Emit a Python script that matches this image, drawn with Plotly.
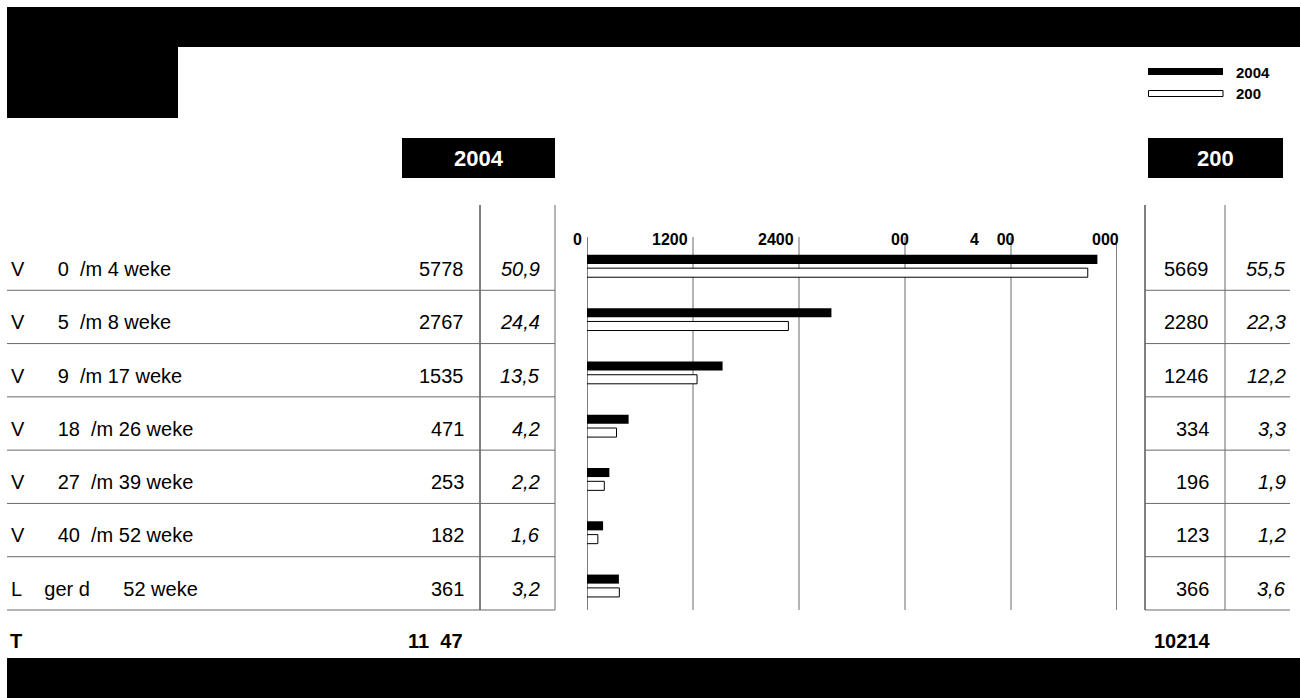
import plotly.graph_objects as go

NB = "\u00a0"
# ---- data ----
categories = ["V" + NB * 6 + "0" + NB * 2 + "/m 4 weke",
              "V" + NB * 6 + "5" + NB * 2 + "/m 8 weke",
              "V" + NB * 6 + "9" + NB * 2 + "/m 17 weke",
              "V" + NB * 6 + "18" + NB * 2 + "/m 26 weke",
              "V" + NB * 6 + "27" + NB * 2 + "/m 39 weke",
              "V" + NB * 6 + "40" + NB * 2 + "/m 52 weke",
              "L" + NB * 4 + "ger d" + NB * 6 + "52 weke"]
values_2004 = [5778, 2767, 1535, 471, 253, 182, 361]
pct_2004 = ["50,9", "24,4", "13,5", "4,2", "2,2", "1,6", "3,2"]
values_2003 = [5669, 2280, 1246, 334, 196, 123, 366]
pct_2003 = ["55,5", "22,3", "12,2", "3,3", "1,9", "1,2", "3,6"]
total_label = "T"
total_2004 = "11" + NB * 2 + "47"
total_2003 = "10214"
tick_values = [0, 1200, 2400, 3600, 4800, 6000]
tick_labels = ["0", "1200", "2400", "00", "4" + NB * 4 + "00", "000"]
legend_labels = ["2004", "200"]
header_labels = ["2004", "200"]

# style (not data)
tick_shift = [-3, -3, -3, 6, 6, 4]

W, H = 1300, 698
def px(x): return x / W
def py(y): return 1 - y / H

FONT = "Liberation Sans, Arial, sans-serif"
GREY = "#6a6a6a"
TS = 20  # table font size

n = len(categories)
fig = go.Figure()
fig.add_trace(go.Bar(orientation="h", x=values_2004, y=[i - 0.08 for i in range(n)],
                     width=0.17, marker=dict(color="black", line=dict(width=0)),
                     name=legend_labels[0], showlegend=False, hoverinfo="x"))
fig.add_trace(go.Bar(orientation="h", x=values_2003, y=[i + 0.17 for i in range(n)],
                     width=0.17, marker=dict(color="white", line=dict(color="black", width=1)),
                     name=legend_labels[1], showlegend=False, hoverinfo="x"))

shapes = []
ann = []

def rect(x0, y0, x1, y1, fill="black", line=None):
    shapes.append(dict(type="rect", xref="paper", yref="paper", x0=px(x0), x1=px(x1),
                       y0=py(y1), y1=py(y0), fillcolor=fill,
                       line=line if line else dict(width=0), layer="above"))

def hline(x0, x1, y, color=GREY, w=1):
    shapes.append(dict(type="line", xref="paper", yref="paper", x0=px(x0), x1=px(x1),
                       y0=py(y), y1=py(y), line=dict(color=color, width=w)))

def vline(x, y0, y1, color="black", w=1):
    shapes.append(dict(type="line", xref="paper", yref="paper", x0=px(x), x1=px(x),
                       y0=py(y0), y1=py(y1), line=dict(color=color, width=w)))

def text(t, x, y, anchor="left", size=TS, bold=False, italic=False, color="black", yref="paper"):
    if bold:
        t = "<b>" + t + "</b>"
    if italic:
        t = "<i>" + t + "</i>"
    ann.append(dict(text=t, x=px(x), y=(py(y) if yref == "paper" else y), xref="paper", yref=yref,
                    xanchor=anchor, yanchor="middle", showarrow=False,
                    font=dict(family=FONT, size=size, color=color)))

# header blocks
rect(7, 7, 1300, 47)
rect(7, 7, 178, 118)
# bottom band
rect(7, 658, 1300, 698)

# legend
rect(1148, 68, 1223, 75)
rect(1148.5, 90.5, 1223, 96.5, fill="white", line=dict(color="black", width=1))
text(legend_labels[0], 1234, 72, size=15, bold=True)
text(legend_labels[1], 1234, 93.5, size=15, bold=True)

# column headers
rect(402, 138, 555, 178)
text(header_labels[0], 478.5, 158, anchor="center", size=22, bold=True, color="white")
rect(1148, 138, 1283, 178)
text(header_labels[1], 1215.5, 158, anchor="center", size=22, bold=True, color="white")

# table lines
row_top = 237
row_h = (610 - 237) / n
vline(480, 205, 610, "black")
vline(555, 205, 610, GREY)
vline(1145, 205, 610, "black")
vline(1225, 205, 610, GREY)
for i in range(n):
    yb = row_top + row_h * (i + 1)
    hline(7, 555, yb)
    hline(1145, 1290, yb)

# chart gridlines and tick labels
for k, tv in enumerate(tick_values):
    col = "black" if k in (0, len(tick_values) - 1) else GREY
    shapes.append(dict(type="line", xref="x", yref="paper", x0=tv, x1=tv,
                       y0=py(610), y1=py(237), line=dict(color=col, width=1), layer="below"))
    ann.append(dict(text="<b>" + tick_labels[k] + "</b>", x=tv, y=py(240), xref="x", yref="paper",
                    xanchor="right", yanchor="middle", showarrow=False, xshift=tick_shift[k],
                    font=dict(family=FONT, size=16, color="black")))

# table text
for i in range(n):
    yc = i + 0.1
    ann.append(dict(text=categories[i], x=px(9), y=yc, xref="paper", yref="y", xanchor="left",
                    yanchor="middle", showarrow=False, font=dict(family=FONT, size=TS, color="black")))
    text(str(values_2004[i]), 466, yc, anchor="right", yref="y")
    text(pct_2004[i], 542, yc, anchor="right", italic=True, yref="y")
    text(str(values_2003[i]), 1211, yc, anchor="right", yref="y")
    text(pct_2003[i], 1288, yc, anchor="right", italic=True, yref="y")

# total row
text(total_label, 8, 641, bold=True)
text(total_2004, 465, 641, anchor="right", bold=True)
text(total_2003, 1212, 641, anchor="right", bold=True)

fig.update_layout(
    width=W, height=H, margin=dict(l=0, r=0, t=0, b=0),
    paper_bgcolor="white", plot_bgcolor="rgba(0,0,0,0)",
    barmode="overlay", showlegend=False,
    xaxis=dict(range=[0, 6000], domain=[px(587), px(1117)], visible=False, fixedrange=True),
    yaxis=dict(range=[n - 0.5, -0.5], domain=[py(610), py(237)], visible=False, fixedrange=True),
    shapes=shapes, annotations=ann,
)
fig.write_html("out.html")
